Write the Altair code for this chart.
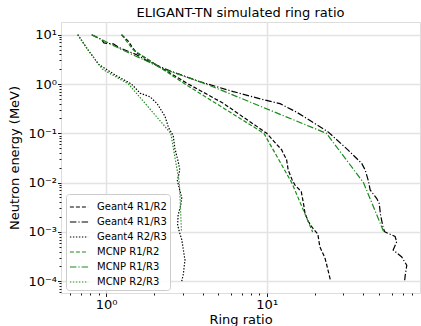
import altair as alt
import pandas as pd

# Geant4 ring ratios (energy in MeV, descending)
g4_r12_e = [10, 7.35, 5.8, 4.26, 3.12, 2.28, 1.92, 1.0, 0.406, 0.1, 0.046, 0.039,
            0.029, 0.018, 0.0113, 0.0089, 0.0066, 0.0035, 0.0024, 0.0016, 0.0012,
            0.0009, 0.0005, 0.0003, 0.00023, 0.0001]
g4_r12_x = [1.25, 1.38, 1.445, 1.55, 1.83, 2.11, 2.33, 3.25, 5.37, 10.0, 12.4, 12.7,
            13.3, 13.6, 14.4, 15.0, 16.4, 17.0, 17.3, 18.2, 19.3,
            20.8, 21.4, 23.0, 23.5, 25.0]

g4_r13_e = [10, 7.9, 6.8, 6.5, 5.4, 3.93, 3.12, 2.28, 1.85, 1.11, 0.70, 0.47, 0.40,
            0.27, 0.108, 0.046, 0.0245, 0.018, 0.0106, 0.0071, 0.0048, 0.0038,
            0.0022, 0.0012, 0.001, 0.00081, 0.00063, 0.00043, 0.00031, 0.00021,
            0.00013, 0.0001]
g4_r13_x = [0.815, 0.94, 0.97, 1.11, 1.22, 1.55, 1.75, 2.15, 2.5, 3.85, 6.2, 9.8, 12.1,
            15.3, 24.0, 32.0, 39.0, 41.0, 43.0, 44.0, 48.3, 50.1,
            51.1, 53.1, 54.3, 62.9, 64.4, 61.2, 69.2, 74.4,
            72.7, 72.1]

g4_r23_e = [10, 5, 2.5, 1.5, 1.0, 0.65, 0.55, 0.4, 0.22, 0.13, 0.09, 0.05, 0.027,
            0.018, 0.011, 0.0075, 0.005, 0.0035, 0.0022, 0.0014, 0.001, 0.0007,
            0.00043, 0.00027, 0.00014, 0.0001]
g4_r23_x = [0.667, 0.77, 0.9, 1.15, 1.44, 1.63, 1.88, 2.08, 2.33, 2.45, 2.62, 2.68, 2.81,
            2.88, 2.78, 2.86, 2.96, 2.92, 2.81, 2.79, 2.86, 2.96,
            3.03, 3.10, 3.03, 2.96]

# MCNP ring ratios
mc_e = [10, 5, 2, 1, 0.1, 0.01, 0.001]
mc_r12_x = [1.25, 1.47, 2.25, 3.1, 9.6, 14.3, 19.3]
mc_r13_x = [0.815, 1.25, 2.3, 4.2, 23.5, 40.0, 53.5]
mc_r23_x = [0.667, 0.77, 0.95, 1.38, 2.53, 2.86, 2.95]

series_names = ["Geant4 R1/R2", "Geant4 R1/R3", "Geant4 R2/R3",
                "MCNP R1/R2", "MCNP R1/R3", "MCNP R2/R3"]
series_colors = ["#000000", "#000000", "#000000", "#1a8a1a", "#1a8a1a", "#1a8a1a"]
dash, dashdot, dot = [4, 2], [6.5, 2, 1.2, 2], [1.4, 1.6]
series_dashes = [dash, dashdot, dot, dash, dashdot, dot]

series_data = [
    (g4_r12_e, g4_r12_x), (g4_r13_e, g4_r13_x), (g4_r23_e, g4_r23_x),
    (mc_e, mc_r12_x), (mc_e, mc_r13_x), (mc_e, mc_r23_x),
]

rows = []
for name, (es, xs) in zip(series_names, series_data):
    for i, (e, x) in enumerate(zip(es, xs)):
        rows.append({"series": name, "energy": e, "ratio": x, "idx": i})
df = pd.DataFrame(rows)

# log-axis tick positions (majors at powers of ten, minors in between)
x_ticks = [float(f"{m}e{k}") for k in (-1, 0, 1) for m in range(1, 10)]
x_ticks = [v for v in x_ticks if 0.52 <= v <= 90]
y_ticks = [float(f"{m}e{k}") for k in range(-5, 2) for m in range(1, 10)]
y_ticks = [v for v in y_ticks if 5.7e-5 <= v <= 18]

sup = {"0": "\u2070", "1": "\u00b9", "2": "\u00b2", "3": "\u00b3", "4": "\u2074",
       "5": "\u2075", "-": "\u207b"}
is_major = "abs(log(datum.value)/LN10 - round(log(datum.value)/LN10)) < 1e-6"
expo = "round(log(datum.value)/LN10)"
label_expr = "''"
for k in range(-5, 3):
    s = "10" + "".join(sup[c] for c in str(k))
    label_expr = f"({expo} == {k} && {is_major}) ? '{s}' : {label_expr}"

FONT = "DejaVu Sans"


def log_axis(values, title, **kw):
    return alt.Axis(
        values=values,
        title=title,
        labelExpr=label_expr,
        grid=True,
        gridColor="#e3e3e3",
        gridWidth=1.5,
        gridOpacity={"condition": {"test": is_major, "value": 1}, "value": 0},
        tickSize={"condition": {"test": is_major, "value": 3.5}, "value": 2},
        tickColor="#000000",
        tickWidth=0.9,
        domain=False,
        labelFont=FONT,
        labelFontSize=13,
        labelColor="#000000",
        titleFont=FONT,
        titleFontSize=13,
        titleFontWeight="normal",
        titleColor="#000000",
        labelOverlap=False,
        labelBound=False,
        labelFlush=False,
        **kw,
    )


legend = alt.Legend(
    title=None,
    orient="none",
    legendX=5,
    legendY=172,
    symbolType="stroke",
    symbolSize=330,
    symbolStrokeWidth=1.2,
    labelFont=FONT,
    labelFontSize=10,
    labelColor="#000000",
    labelOffset=8,
    rowPadding=-2.5,
    fillColor="rgba(255,255,255,0.85)",
    strokeColor="#cccccc",
    cornerRadius=3,
    padding=3,
)

chart = alt.Chart(df).mark_line(strokeWidth=1.2, clip=True).encode(
    x=alt.X("ratio:Q",
            scale=alt.Scale(type="log", domain=[0.5248, 89.9], nice=False, zero=False),
            axis=log_axis(x_ticks, "Ring ratio", labelPadding=2,
                          titleBaseline="alphabetic", titleY=30.5)),
    y=alt.Y("energy:Q",
            scale=alt.Scale(type="log", domain=[5.76e-5, 18.1], nice=False, zero=False),
            axis=log_axis(y_ticks, "Neutron energy (MeV)", labelPadding=1,
                          titleBaseline="alphabetic", titleX=-43, titleY=135.5)),
    color=alt.Color("series:N",
                    scale=alt.Scale(domain=series_names, range=series_colors),
                    legend=legend),
    strokeDash=alt.StrokeDash("series:N",
                              scale=alt.Scale(domain=series_names, range=series_dashes),
                              legend=legend),
    order=alt.Order("idx:Q"),
    detail="series:N",
).properties(
    width=359,
    height=271,
    title=alt.TitleParams("ELIGANT-TN simulated ring ratio", font=FONT, fontSize=13,
                          fontWeight="normal", color="#000000", anchor="middle",
                          baseline="alphabetic", offset=5, dy=13),
    autosize=alt.AutoSizeParams(type="none"),
    padding={"left": 61, "top": 22, "right": 1, "bottom": 33},
).configure_view(
    stroke="#000000",
    strokeWidth=1,
).configure(
    background="white",
)

chart.save("out.html", embed_options={"renderer": "svg", "actions": False})
